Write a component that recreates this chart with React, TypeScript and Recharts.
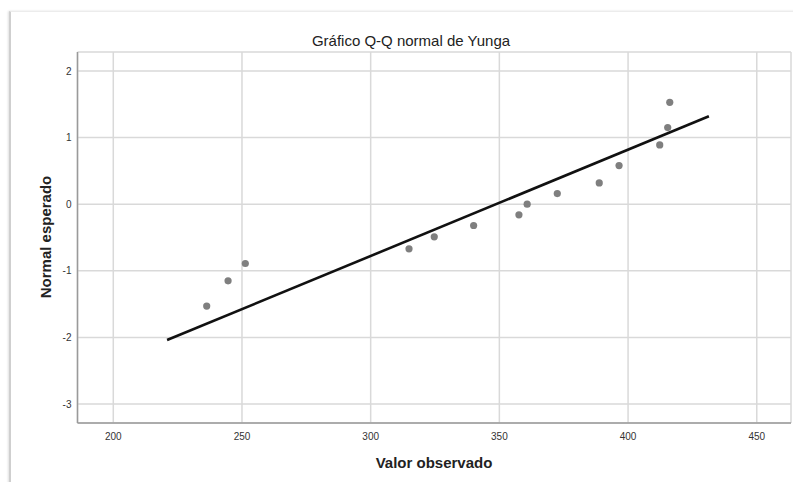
import { ScatterChart, Scatter, XAxis, YAxis, CartesianGrid } from "recharts"

const observed = [236.3, 244.6, 251.3, 314.9, 324.7, 340.0, 357.6, 360.8, 372.5, 388.8, 396.5, 412.3, 415.4, 416.2]
const expected = [-1.53, -1.15, -0.89, -0.67, -0.49, -0.32, -0.16, 0, 0.16, 0.32, 0.58, 0.89, 1.15, 1.53]
const lineX = [220.9, 431.4]
const lineY = [-2.04, 1.32]
const xTicks = [200, 250, 300, 350, 400, 450]
const yTicks = [-3, -2, -1, 0, 1, 2]

const points = observed.map((x, i) => ({ x, y: expected[i] }))
const refLine = lineX.map((x, i) => ({ x, y: lineY[i] }))

const FONT = '"Liberation Sans", Arial, sans-serif'

const Dot = (props: any) => <circle cx={props.cx} cy={props.cy} r={3.6} fill="#7f7f7f" />
const NoDot = () => <g />

export default function App() {
  return (
    <div style={{ position: "absolute", left: 0, top: 0, width: 793, height: 482, background: "#fff", overflow: "hidden", fontFamily: FONT }}>
      <div style={{
        position: "absolute", left: 9, top: 11, right: -4, bottom: -4,
        borderLeft: "2px solid #cfcfcf", borderTop: "1px solid #ececec",
        boxShadow: "-1px 0 2px rgba(0,0,0,0.12)",
      }} />
      <ScatterChart width={793} height={482} margin={{ top: 52, right: 2, bottom: 0, left: 0 }} style={{ position: "absolute", left: 0, top: 0 }}>
        <CartesianGrid stroke="#d9d9d9" strokeWidth={1.5} />
        <XAxis
          type="number" dataKey="x" domain={[186.1, 463.3]} ticks={xTicks} allowDataOverflow
          height={59} tickLine={false} tickMargin={4}
          axisLine={{ stroke: "#9a9a9a", strokeWidth: 1.5 }}
          tick={{ fontSize: 10, fill: "#333", fontFamily: FONT }}
        />
        <YAxis
          type="number" dataKey="y" domain={[-3.285, 2.285]} ticks={yTicks} allowDataOverflow
          width={77.5} tickLine={false} tickMargin={0}
          axisLine={{ stroke: "#9a9a9a", strokeWidth: 1.5 }}
          tick={{ fontSize: 10, fill: "#333", fontFamily: FONT }}
        />
        <Scatter data={refLine} line={{ stroke: "#111", strokeWidth: 2.6 }} shape={NoDot} isAnimationActive={false} />
        <Scatter data={points} shape={Dot} isAnimationActive={false} />
      </ScatterChart>
      <div style={{ position: "absolute", left: 411, top: 40, transform: "translate(-50%,-50%)", fontSize: 15, color: "#222", whiteSpace: "nowrap" }}>
        Gráfico Q-Q normal de Yunga
      </div>
      <div style={{ position: "absolute", left: 434, top: 462, transform: "translate(-50%,-50%)", fontSize: 15, fontWeight: "bold", color: "#222", whiteSpace: "nowrap" }}>
        Valor observado
      </div>
      <div style={{ position: "absolute", left: 45, top: 237, transform: "translate(-50%,-50%) rotate(-90deg)", fontSize: 15, fontWeight: "bold", color: "#222", whiteSpace: "nowrap" }}>
        Normal esperado
      </div>
    </div>
  )
}
